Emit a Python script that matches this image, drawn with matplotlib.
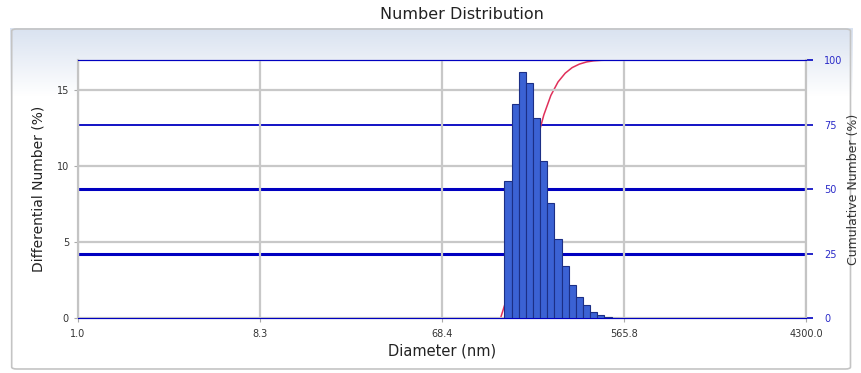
import numpy as np
import matplotlib
matplotlib.use("Agg")
import matplotlib.pyplot as plt
from matplotlib.colors import LinearSegmentedColormap
from matplotlib.patches import FancyBboxPatch

# Size classes (bin centres, nm) and differential number (%)
diameters = [147, 160, 174, 189, 205, 223, 242, 263, 286, 310, 337, 367, 398, 433, 470, 511]
number_pct = [9.0, 14.1, 16.2, 15.5, 13.2, 10.35, 7.55, 5.2, 3.4, 2.15, 1.35, 0.84, 0.42, 0.2, 0.07, 0.03]

# x axis: labels are evenly spaced on the log axis in the original
x_ticks = [1.0, 8.27, 68.4, 565.8, 4678.0]
x_labels = ["1.0", "8.3", "68.4", "565.8", "4300.0"]
left_ticks = [0, 5, 10, 15]
right_ticks = [0, 25, 50, 75, 100]

d = np.array(diameters, dtype=float)
h = np.array(number_pct)
ratio = np.sqrt(d[1:] / d[:-1])
edges_lo = np.concatenate([[d[0] / ratio[0]], d[1:] / ratio])
edges_hi = np.concatenate([d[:-1] * ratio, [d[-1] * ratio[-1]]])

# cumulative curve at bin centres, starting from zero one bin earlier
cum = np.concatenate([[0.0], np.cumsum(h)])
cum = cum / cum[-1] * 100
cum_x = np.concatenate([[d[0] ** 2 / d[1]], d])
cum_x = np.concatenate([cum_x, [x_ticks[-1]]])
cum = np.concatenate([cum, [100.0]])

fig = plt.figure(figsize=(8.62, 3.73), dpi=100)

# panel background with light blue gradient at the top
bg = fig.add_axes([0.0116, 0.008, 0.977, 0.917], zorder=0)
cmap = LinearSegmentedColormap.from_list("panel", [(0.0, "#ffffff"), (0.8, "#ffffff"), (1.0, "#d9e2f0")])
grad = np.linspace(0, 1, 256).reshape(-1, 1)
bg.imshow(grad, aspect="auto", cmap=cmap, extent=[0, 1, 0, 1], origin="lower")
bg.set_xlim(0, 1)
bg.set_ylim(0, 1)
bg.axis("off")
bg.add_patch(FancyBboxPatch((0.002, 0.003), 0.996, 0.994, boxstyle="round,pad=0,rounding_size=0.006",
                            transform=bg.transAxes, facecolor="none", edgecolor="#c4c4c4", lw=1.2))

rect = [0.0905, 0.1475, 0.8445, 0.6915]
ax = fig.add_axes(rect, zorder=2)
ax2 = ax.twinx()
ax2.set_zorder(1)
ax.set_zorder(2)
ax.patch.set_visible(False)
ax2.patch.set_visible(True)
ax2.patch.set_facecolor("white")

# cumulative (behind the bars)
ax2.plot(cum_x, cum, color="#e0305a", lw=1.1)
ax2.set_ylim(0, 100)
ax2.set_yticks(right_ticks)
ax2.yaxis.grid(True, color="#0000c0", lw=1.3)
for val, gl in zip(right_ticks, ax2.get_ygridlines()):
    if val in (25, 50):
        gl.set_linewidth(2.2)
ax2.tick_params(axis="y", labelsize=7, labelcolor="#2a2ac8", color="#0000c0", length=5, width=1.2, pad=8)
ax2.set_ylabel("Cumulative Number (%)", fontsize=9, color="#333333", labelpad=3)

# differential bars
ax.bar(edges_lo, h, width=edges_hi - edges_lo, align="edge", color="#3b62d4",
       edgecolor="#1c2f86", lw=0.8, zorder=3)
ax.set_xscale("log")
ax.set_xlim(x_ticks[0], x_ticks[-1])
ax.set_xticks(x_ticks)
ax.set_xticklabels(x_labels)
ax.minorticks_off()
ax.set_ylim(0, 17)
ax.set_yticks(left_ticks)
ax.set_axisbelow(True)
ax.xaxis.grid(True, color="#c8c8c8", lw=1.6)
ax.yaxis.grid(True, color="#c8c8c8", lw=1.6)
ax.tick_params(axis="both", labelsize=7, labelcolor="#333333", color="#aaaaaa", length=3)
ax.tick_params(axis="x", pad=5)
ax.set_xlabel("Diameter (nm)", fontsize=10.5, color="#222222", labelpad=3)
ax.set_ylabel("Differential Number (%)", fontsize=10, color="#222222", labelpad=8)

for a in (ax, ax2):
    a.spines["top"].set_color("#0000c0")
    a.spines["bottom"].set_color("#0000c0")
    a.spines["left"].set_color("#c4c4c4")
    a.spines["right"].set_color("#c4c4c4")
    a.spines["left"].set_linewidth(1.5)
    a.spines["right"].set_linewidth(1.5)

fig.text(0.536, 0.962, "Number Distribution", ha="center", va="center", fontsize=11.5, color="#222222")

fig.savefig("out.png", dpi=100)
